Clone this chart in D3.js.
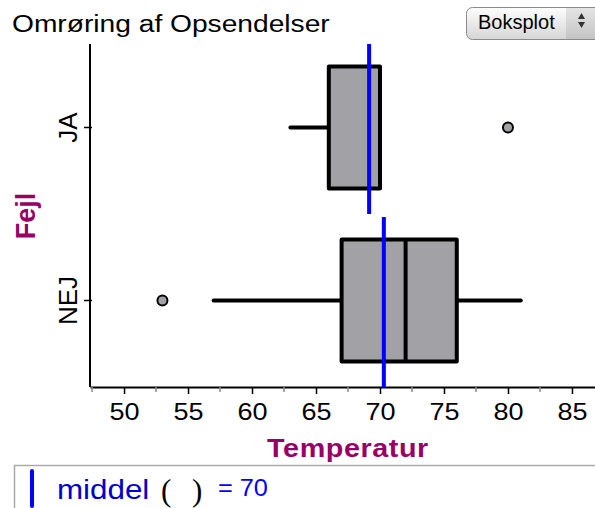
<!DOCTYPE html>
<html>
<head>
<meta charset="utf-8">
<script src="https://cdn.jsdelivr.net/npm/d3@7"></script>
<style>
  body { margin: 0; background: #fff; }
  svg { display: block; font-family: "Liberation Sans", Arial, sans-serif; }
</style>
</head>
<body>
<div id="chart"></div>
<script>
// data
let categories = ["JA", "NEJ"];
let whiskerLow = [63, 57];
let q1 = [66, 67];
let medians = [70, 72];
let q3 = [70, 76];
let whiskerHigh = [70, 81];
let outliers = [[80], [53]];
let means = [69.15, 70.3];
let overallMean = 70;
let xTicks = [50, 55, 60, 65, 70, 75, 80, 85];

const width = 595, height = 508;
const plotLeft = 90, plotRight = 595, plotTop = 44, plotBottom = 387;
const stretch = 1.15; // the original font runs wider than Liberation Sans

let svg = d3.select("#chart").append("svg")
  .attr("width", width)
  .attr("height", height);

let x = d3.scaleLinear().domain([47.34, 86.8]).range([plotLeft, plotRight]);
let y = d3.scaleBand().domain(categories).range([41, plotBottom]);

// title
svg.append("text")
  .attr("transform", `translate(12,32) scale(${stretch},1)`)
  .style("font-size", "24.5px")
  .text("Omrøring af Opsendelser");

// "Boksplot" selector
let defs = svg.append("defs");
let grad = defs.append("linearGradient").attr("id", "btn").attr("x1", 0).attr("x2", 0).attr("y1", 0).attr("y2", 1);
grad.append("stop").attr("offset", "0%").attr("stop-color", "#fdfdfd");
grad.append("stop").attr("offset", "100%").attr("stop-color", "#d6d6d6");
let grad2 = defs.append("linearGradient").attr("id", "spin").attr("x1", 0).attr("x2", 0).attr("y1", 0).attr("y2", 1);
grad2.append("stop").attr("offset", "0%").attr("stop-color", "#e4e4e4");
grad2.append("stop").attr("offset", "100%").attr("stop-color", "#c4c4c4");
svg.append("rect")
  .attr("x", 466.5).attr("y", 7.5).attr("width", 135).attr("height", 32).attr("rx", 6)
  .attr("fill", "url(#btn)").attr("stroke", "#8a8a8a");
svg.append("rect")
  .attr("x", 566).attr("y", 8).attr("width", 29).attr("height", 31)
  .attr("fill", "url(#spin)");
svg.append("text")
  .attr("x", 478).attr("y", 29)
  .style("font-size", "20px")
  .text("Boksplot");
svg.append("path").attr("d", "M578,19 L581.5,13 L585,19 Z").attr("fill", "#333");
svg.append("path").attr("d", "M578,22 L581.5,28 L585,22 Z").attr("fill", "#333");

// x axis with minor ticks
let xAxis = d3.axisBottom(x).tickValues(xTicks).tickSize(7).tickSizeOuter(0).tickPadding(9);
let gx = svg.append("g").attr("transform", `translate(0,${plotBottom})`).call(xAxis);
gx.select(".domain").attr("stroke-width", 2);
gx.selectAll("text").style("font-size", "23.5px").attr("fill", "#000")
  .attr("transform", `scale(${stretch},1)`);
gx.selectAll(".tick line").attr("stroke-width", 1.5);
let minor = d3.range(47.5, 86, 5);
gx.selectAll(".minor").data(minor).enter().append("line")
  .attr("x1", d => x(d)).attr("x2", d => x(d))
  .attr("y1", 0).attr("y2", 5)
  .attr("stroke", "#888").attr("stroke-width", 1.5);

// y axis
let yAxis = d3.axisLeft(y).tickSize(6).tickSizeOuter(0).tickFormat("");
let gy = svg.append("g").attr("transform", `translate(${plotLeft},0)`).call(yAxis);
gy.select(".domain").attr("stroke-width", 2).attr("d", `M0,${plotTop}V${plotBottom}`);
gy.selectAll(".tick line").attr("stroke-width", 1.5).attr("x2", -6).attr("x1", 2);

categories.forEach(function(c) {
  svg.append("text")
    .attr("transform", `translate(77,${y(c) + y.bandwidth() / 2}) rotate(-90)`)
    .attr("text-anchor", "middle")
    .style("font-size", "26px")
    .text(c);
});

// axis titles
svg.append("text")
  .attr("transform", "translate(35,216) rotate(-90)")
  .attr("text-anchor", "middle")
  .attr("fill", "#990066")
  .style("font-size", "27px").style("font-weight", "bold")
  .text("Fejl");
svg.append("text")
  .attr("transform", `translate(348,456.5) scale(${stretch},1)`)
  .attr("text-anchor", "middle")
  .attr("fill", "#990066")
  .style("font-size", "25px").style("font-weight", "bold").style("letter-spacing", "0.5px")
  .text("Temperatur");

// boxes
let boxH = 122;
categories.forEach(function(c, i) {
  let cy = y(c) + y.bandwidth() / 2;
  let g = svg.append("g");
  g.append("line")
    .attr("x1", x(whiskerLow[i])).attr("x2", x(q1[i]))
    .attr("y1", cy).attr("y2", cy)
    .attr("stroke", "#000").attr("stroke-width", 4).attr("stroke-linecap", "round");
  g.append("line")
    .attr("x1", x(q3[i])).attr("x2", x(whiskerHigh[i]))
    .attr("y1", cy).attr("y2", cy)
    .attr("stroke", "#000").attr("stroke-width", 4).attr("stroke-linecap", "round");
  g.append("rect")
    .attr("x", x(q1[i])).attr("y", cy - boxH / 2)
    .attr("width", x(q3[i]) - x(q1[i])).attr("height", boxH)
    .attr("fill", "#a2a1a6").attr("stroke", "#000").attr("stroke-width", 4)
    .attr("stroke-linejoin", "round");
  g.append("line")
    .attr("x1", x(medians[i])).attr("x2", x(medians[i]))
    .attr("y1", cy - boxH / 2).attr("y2", cy + boxH / 2)
    .attr("stroke", "#000").attr("stroke-width", 4);
  g.selectAll("circle").data(outliers[i]).enter().append("circle")
    .attr("cx", d => x(d)).attr("cy", cy).attr("r", 5)
    .attr("fill", "#a2a1a6").attr("stroke", "#000").attr("stroke-width", 2);
  // mean line
  g.append("line")
    .attr("x1", x(means[i])).attr("x2", x(means[i]))
    .attr("y1", y(c) + 3).attr("y2", y(c) + y.bandwidth())
    .attr("stroke", "#0000ff").attr("stroke-width", 4);
});

// bottom formula panel
svg.append("line").attr("x1", 14).attr("x2", 595).attr("y1", 465.5).attr("y2", 465.5)
  .attr("stroke", "#aaa").attr("stroke-width", 1.5);
svg.append("line").attr("x1", 14.5).attr("x2", 14.5).attr("y1", 465).attr("y2", 508)
  .attr("stroke", "#aaa").attr("stroke-width", 1.5);
svg.append("line").attr("x1", 32).attr("x2", 32).attr("y1", 471).attr("y2", 506)
  .attr("stroke", "#0000ff").attr("stroke-width", 4).attr("stroke-linecap", "round");
svg.append("text")
  .attr("transform", "translate(57,499) scale(1.1,1)")
  .attr("fill", "#0000cc").style("font-size", "28.5px").text("middel");
svg.append("text").attr("x", 161).attr("y", 501)
  .style("font-family", "'Liberation Serif', serif").style("font-size", "31px")
  .text("(");
svg.append("text").attr("x", 192).attr("y", 501)
  .style("font-family", "'Liberation Serif', serif").style("font-size", "31px")
  .text(")");
svg.append("text")
  .attr("transform", "translate(218,496) scale(1.1,1)")
  .attr("fill", "#0000ff").style("font-size", "23px").text("= " + overallMean);
</script>
</body>
</html>
